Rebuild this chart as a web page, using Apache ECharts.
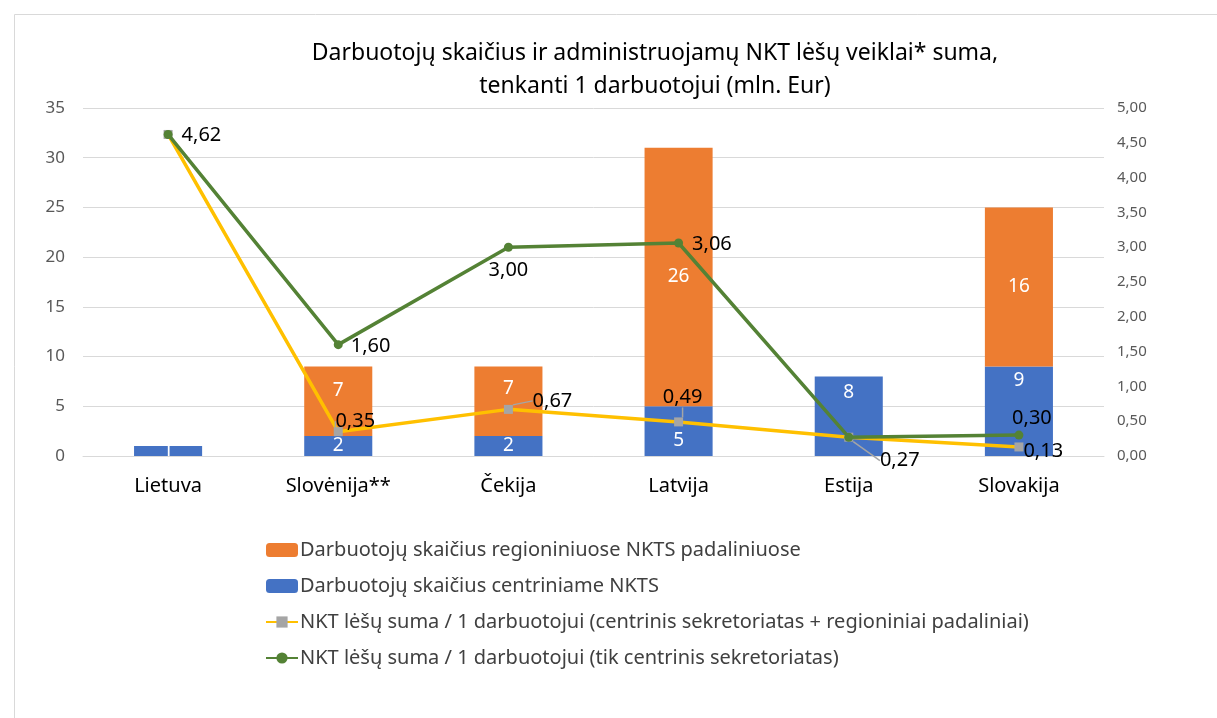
<!DOCTYPE html>
<html><head><meta charset="utf-8">
<script src="https://cdn.jsdelivr.net/npm/echarts@6/dist/echarts.min.js"></script>
<style>html,body{margin:0;padding:0;background:#fff}#c{width:1217px;height:718px}</style>
</head><body><div id="c"></div>
<script>
const categories = ['Lietuva', 'Slovėnija**', 'Čekija', 'Latvija', 'Estija', 'Slovakija'];
const regionalStaff = [null, 7, 7, 26, null, 16];
const centralStaff = [1, 2, 2, 5, 8, 9];
const fundsAll = [4.62, 0.35, 0.67, 0.49, 0.27, 0.13];
const fundsCentral = [4.62, 1.60, 3.00, 3.06, 0.27, 0.30];
const leftTicks = [0, 5, 10, 15, 20, 25, 30, 35];
const rightTicks = [0, 0.5, 1, 1.5, 2, 2.5, 3, 3.5, 4, 4.5, 5];
const names = [
  'Darbuotojų skaičius regioniniuose NKTS padaliniuose',
  'Darbuotojų skaičius centriniame NKTS',
  'NKT lėšų suma / 1 darbuotojui (centrinis sekretoriatas + regioniniai padaliniai)',
  'NKT lėšų suma / 1 darbuotojui (tik centrinis sekretoriatas)'
];
const FONT = 'Noto Sans';
const fmt = v => v.toFixed(2).replace('.', ',');

// label placements (per category)
const blueLabel = [
  {}, {}, {}, {offset: [0, 9]}, {position: 'insideTop', offset: [0, 2]}, {position: 'insideTop', offset: [0, 0]}
];
const orangeLabel = [
  {}, {offset: [0, -11]}, {offset: [0, -13]}, {}, {}, {}
];
const yellowLabel = [
  {show: false},
  {position: 'top'},
  {position: 'top'},
  {position: 'top'},
  {position: 'top'},
  {position: 'right'}
];
// label shifts for the yellow series (leader lines drawn where moved far)
const yellowMove = [null, [17, 9], [44, 11], [4, -5], [51, 43], [-5, 4]];
const greenLabel = [
  {position: 'right', offset: [4, 1]},
  {position: 'right', offset: [3, 2]},
  {position: 'bottom', offset: [0, 4]},
  {position: 'right', offset: [4, 1]},
  {show: false},
  {position: 'top', offset: [13, 3]}
];

const chart = echarts.init(document.getElementById('c'));
chart.setOption({
  animation: false,
  textStyle: {fontFamily: FONT},
  title: {
    text: 'Darbuotojų skaičius ir administruojamų NKT lėšų veiklai* suma,\ntenkanti 1 darbuotojui (mln. Eur)',
    left: 650, top: 32, textAlign: 'center',
    textStyle: {fontFamily: FONT, fontSize: 23, fontWeight: 'normal', color: '#000', lineHeight: 33}
  },
  graphic: [{
    type: 'rect', left: 12, top: 12, silent: true,
    shape: {width: 1230, height: 730},
    style: {fill: 'none', stroke: '#d9d9d9', lineWidth: 1}
  }],
  legend: {
    orient: 'vertical', left: 260, top: 535, padding: 5,
    itemWidth: 32, itemHeight: 14, itemGap: 16,
    data: [names[0], names[1], names[2], names[3]],
    textStyle: {fontFamily: FONT, fontSize: 20, color: '#404040', padding: [0, 0, 0, -3]}
  },
  grid: {left: 83, right: 113, top: 108, bottom: 262},
  xAxis: {
    type: 'category', data: categories,
    axisTick: {show: false},
    axisLine: {lineStyle: {color: '#d9d9d9'}},
    axisLabel: {color: '#000', fontSize: 20, margin: 20, fontFamily: FONT}
  },
  yAxis: [{
    type: 'value', min: leftTicks[0], max: leftTicks[leftTicks.length - 1], interval: 5,
    axisLabel: {color: '#595959', fontSize: 17, margin: 18, fontFamily: FONT},
    splitLine: {lineStyle: {color: '#d9d9d9', width: 1}},
    axisLine: {show: false}, axisTick: {show: false}
  }, {
    type: 'value', min: rightTicks[0], max: rightTicks[rightTicks.length - 1], interval: 0.5,
    axisLabel: {color: '#595959', fontSize: 15, margin: 13, fontFamily: FONT, formatter: v => fmt(v)},
    splitLine: {show: false}, axisLine: {show: false}, axisTick: {show: false}
  }],
  series: [{
    name: names[1], type: 'bar', stack: 's', barWidth: '40%',
    data: centralStaff.map((v, i) => ({value: v, label: blueLabel[i]})),
    itemStyle: {color: '#4472C4'},
    label: {show: true, position: 'inside', color: '#fff', fontSize: 19, fontFamily: FONT}
  }, {
    name: names[0], type: 'bar', stack: 's', barWidth: '40%',
    data: regionalStaff.map((v, i) => ({value: v, label: orangeLabel[i]})),
    itemStyle: {color: '#ED7D31'},
    label: {show: true, position: 'inside', color: '#fff', fontSize: 19, fontFamily: FONT}
  }, {
    name: names[2], type: 'line', yAxisIndex: 1,
    data: fundsAll.map((v, i) => ({value: v, label: yellowLabel[i]})),
    symbol: 'rect', symbolSize: 9,
    lineStyle: {color: '#FFC000', width: 3.5},
    itemStyle: {color: '#A5A5A5', borderWidth: 0},
    label: {show: true, color: '#000', fontSize: 20, fontFamily: FONT, formatter: p => fmt(p.value)},
    labelLine: {show: true, showAbove: false, lineStyle: {color: '#A5A5A5', width: 1.5}},
    labelLayout: p => {
      const m = yellowMove[p.dataIndex];
      return m ? {dx: m[0], dy: m[1]} : {};
    },
    z: 3
  }, {
    name: names[3], type: 'line', yAxisIndex: 1,
    data: fundsCentral.map((v, i) => ({value: v, label: greenLabel[i]})),
    symbol: 'circle', symbolSize: 9,
    lineStyle: {color: '#548235', width: 3.5},
    itemStyle: {color: '#548235', borderWidth: 0},
    label: {show: true, color: '#000', fontSize: 20, fontFamily: FONT, formatter: p => fmt(p.value)},
    z: 4
  }]
});
</script></body></html>
